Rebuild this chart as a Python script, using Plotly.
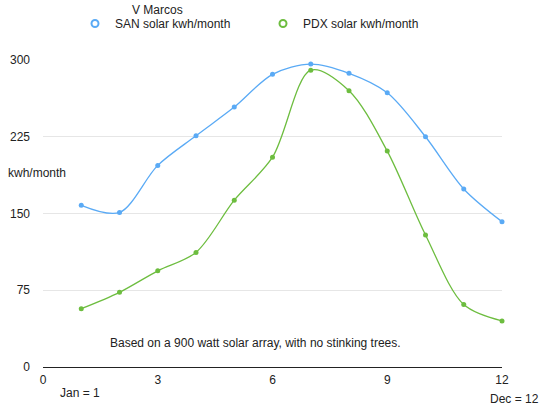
import plotly.graph_objects as go

months = [1, 2, 3, 4, 5, 6, 7, 8, 9, 10, 11, 12]
san_kwh = [158, 151, 197, 226, 254, 286, 296, 287, 268, 225, 174, 142]
pdx_kwh = [57, 73, 94, 112, 163, 205, 290, 270, 211, 129, 61, 45]

x_ticks = [0, 3, 6, 9, 12]
y_ticks = [0, 75, 150, 225, 300]

blue = '#5aaaf5'
green = '#6dbd3f'
font = 'Liberation Sans, Arial, sans-serif'

# plot area in pixels
L, R, T, B = 43, 45, 60, 45
W, H = 547, 412

fig = go.Figure()

for name, vals, color in [('SAN solar kwh/month', san_kwh, blue),
                          ('PDX solar kwh/month', pdx_kwh, green)]:
    fig.add_trace(go.Scatter(x=months, y=vals, mode='lines+markers',
                             line=dict(color=color, width=1.3, shape='spline', smoothing=0.9),
                             marker=dict(color=color, size=5),
                             showlegend=False, cliponaxis=False))
    # hollow marker just for the legend
    fig.add_trace(go.Scatter(x=[None], y=[None], mode='markers', name=name,
                             marker=dict(color=color, size=7, symbol='circle-open',
                                         line=dict(width=2))))


def px(x, y):
    return (x - L) / (W - L - R), (H - B - y) / (H - T - B)


# text placed by pixel position
notes = [
    ('V Marcos', 157, 10, 'center'),
    ('kwh/month', 6, 173, 'left'),
    ('Based on a 900 watt solar array, with no stinking trees.', 255, 343, 'center'),
    ('Jan = 1', 80, 393, 'center'),
    ('Dec = 12', 514, 399, 'center'),
]
anns = []
for text, x, y, xa in notes:
    ax, ay = px(x, y)
    anns.append(dict(text=text, showarrow=False, xref='paper', yref='paper',
                     x=ax, y=ay, xanchor=xa, yanchor='middle', font=dict(size=12)))

lx, ly = px(75, 9)

fig.update_layout(
    width=W, height=H,
    margin=dict(l=L, r=R, t=T, b=B, autoexpand=False),
    paper_bgcolor='white', plot_bgcolor='white',
    font=dict(family=font, size=12, color='#222'),
    legend=dict(orientation='h', x=lx, y=ly, xanchor='left', yanchor='top',
                entrywidth=143, font=dict(size=12), itemwidth=30),
    xaxis=dict(range=[0, 12], tickvals=x_ticks, showgrid=False, zeroline=False,
               showline=False, ticks='', ticklabelstandoff=4),
    yaxis=dict(range=[0, 300], tickvals=y_ticks, showgrid=True, gridcolor='#e6e6e6',
               gridwidth=1, zeroline=True, zerolinecolor='#222', zerolinewidth=1,
               ticks='', ticklabelstandoff=12),
    annotations=anns,
)

# drop the page's default body margin so the figure sits at the corner
fig.write_html('out.html', config={'displayModeBar': False},
               post_script="document.body.style.margin='0';")
